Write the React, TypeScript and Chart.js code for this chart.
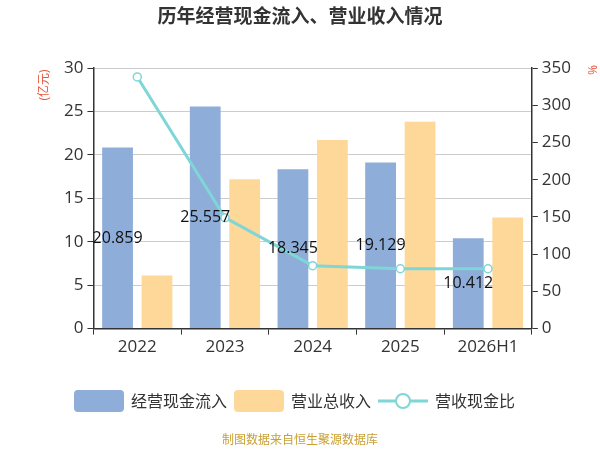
import React, { useEffect, useRef } from "react";
import { Chart, registerables } from "chart.js";
Chart.register(...registerables);

const categories = ["2022", "2023", "2024", "2025", "2026H1"];
const cashInflow = [20.859, 25.557, 18.345, 19.129, 10.412];
const revenue = [6.1, 17.2, 21.7, 23.8, 12.8];
const ratio = [338, 149, 84.5, 80.4, 80.4];
const leftTicks = [0, 5, 10, 15, 20, 25, 30];
const rightTicks = [0, 50, 100, 150, 200, 250, 300, 350];

const FONT = "'Open Sans', 'Noto Sans CJK SC', sans-serif";
const BLUE = "#8eadd9";
const ORANGE = "#fdd898";
const TEAL = "#7fd6d6";

const extras = {
  id: "extras",
  afterDraw(chart: any) {
    const ctx = chart.ctx;
    const y = chart.scales.y;
    const bars = chart.getDatasetMeta(1).data;
    ctx.save();
    ctx.font = `16px ${FONT}`;
    ctx.fillStyle = "#111";
    ctx.textAlign = "center";
    ctx.textBaseline = "middle";
    cashInflow.forEach((v, i) => {
      ctx.fillText(v.toFixed(3), bars[i].x, y.getPixelForValue(v / 2));
    });
    ctx.font = `bold 19px ${FONT}`;
    ctx.fillStyle = "#333";
    ctx.fillText("历年经营现金流入、营业收入情况", 300, 18);
    ctx.font = `12px ${FONT}`;
    ctx.fillStyle = "#c9a035";
    ctx.fillText("制图数据来自恒生聚源数据库", 300, 441);
    ctx.fillStyle = "#e8553e";
    ctx.font = `12px ${FONT}`;
    ctx.save();
    ctx.translate(45, 85);
    ctx.rotate(-Math.PI / 2);
    ctx.fillText("(亿元)", 0, 0);
    ctx.restore();
    ctx.save();
    ctx.translate(591, 70);
    ctx.rotate(Math.PI / 2);
    ctx.fillText("%", 0, 0);
    ctx.restore();
    ctx.font = `16px ${FONT}`;
    ctx.textAlign = "left";
    const ly = 401;
    const items = [
      { x: 74, t: "经营现金流入", c: BLUE, line: false },
      { x: 234, t: "营业总收入", c: ORANGE, line: false },
      { x: 378, t: "营收现金比", c: TEAL, line: true },
    ];
    items.forEach((it) => {
      if (it.line) {
        ctx.strokeStyle = it.c;
        ctx.lineWidth = 3;
        ctx.beginPath();
        ctx.moveTo(it.x, ly);
        ctx.lineTo(it.x + 50, ly);
        ctx.stroke();
        ctx.beginPath();
        ctx.fillStyle = "#fff";
        ctx.lineWidth = 2;
        ctx.arc(it.x + 25, ly, 7, 0, Math.PI * 2);
        ctx.fill();
        ctx.stroke();
      } else {
        ctx.fillStyle = it.c;
        ctx.beginPath();
        (ctx as any).roundRect(it.x, ly - 11, 50, 22, 4);
        ctx.fill();
      }
      ctx.fillStyle = "#333";
      ctx.fillText(it.t, it.x + 57, ly + 1);
    });
    ctx.restore();
  },
};

export default function App() {
  const ref = useRef<HTMLCanvasElement>(null);
  useEffect(() => {
    const chart = new Chart(ref.current!, {
      type: "bar",
      data: {
        labels: categories,
        datasets: [
          { type: "line", data: ratio, yAxisID: "y1", borderColor: TEAL, borderWidth: 3,
            pointRadius: 4, pointBackgroundColor: "#fff", pointBorderColor: TEAL, pointBorderWidth: 1.5, tension: 0, order: 0 } as any,
          { data: cashInflow, backgroundColor: BLUE, yAxisID: "y", categoryPercentage: 0.9, barPercentage: 0.78, order: 1 },
          { data: revenue, backgroundColor: ORANGE, yAxisID: "y", categoryPercentage: 0.9, barPercentage: 0.78, order: 1 },
        ],
      },
      options: {
        animation: false,
        responsive: false,
        layout: { padding: { top: 68, left: 60, right: 25, bottom: 91 } },
        plugins: { legend: { display: false }, tooltip: { enabled: false } },
        scales: {
          x: {
            grid: { display: true, drawOnChartArea: false, offset: true, tickLength: 6, tickColor: "#333" },
            border: { color: "#333", width: 1.5 },
            ticks: { color: "#333", font: { size: 17, family: FONT }, padding: 2 },
          },
          y: {
            min: 0, max: 30,
            afterBuildTicks: (s: any) => { s.ticks = leftTicks.map((v) => ({ value: v })); },
            grid: { color: "#ccc", tickLength: 6, tickColor: "#333" },
            border: { color: "#333", width: 1.5 },
            ticks: { color: "#333", font: { size: 17, family: FONT }, padding: 4 },
          },
          y1: {
            position: "right", min: 0, max: 350,
            afterBuildTicks: (s: any) => { s.ticks = rightTicks.map((v) => ({ value: v })); },
            grid: { drawOnChartArea: false, tickLength: 6, tickColor: "#333" },
            border: { color: "#333", width: 1.5 },
            ticks: { color: "#333", font: { size: 17, family: FONT }, padding: 4 },
          },
        },
      },
      plugins: [extras],
    } as any);
    return () => chart.destroy();
  }, []);
  return (
    <div style={{ position: "absolute", left: 0, top: 0, width: 600, height: 450, background: "#fff" }}>
      <canvas ref={ref} width={600} height={450} style={{ width: 600, height: 450 }} />
    </div>
  );
}
